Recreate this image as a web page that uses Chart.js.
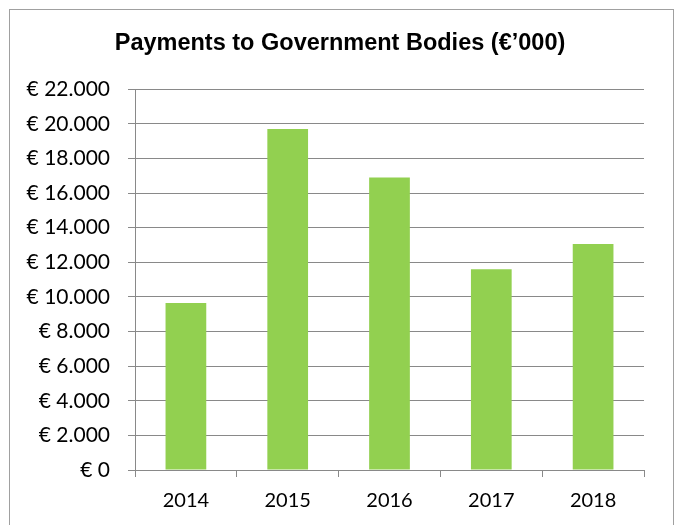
<!DOCTYPE html>
<html>
<head>
<meta charset="utf-8">
<script src="https://cdn.jsdelivr.net/npm/chart.js@4"></script>
<style>
  body { margin: 0; background: #fff; }
  #wrap { position: relative; width: 680px; height: 525px; overflow: hidden; }
  #frame { position: absolute; left: 9px; top: 9px; width: 663px; height: 540px; border: 1px solid #a0a0a0; }
  canvas { position: absolute; left: 0; top: 0; }
</style>
</head>
<body>
<div id="wrap">
  <div id="frame"></div>
  <canvas id="paymentsChart" width="680" height="525"></canvas>
</div>
<script>
const years = ['2014', '2015', '2016', '2017', '2018'];
const payments = [9650, 19700, 16900, 11600, 13050];
const yMin = 0;
const yMax = 22000;
const yStep = 2000;

function euro(v) {
    return '€ ' + String(v).replace(/\B(?=(\d{3})+(?!\d))/g, '.');
}

const ctx = document.getElementById('paymentsChart').getContext('2d');
const paymentsChart = new Chart(ctx, {
    type: 'bar',
    data: {
        labels: years,
        datasets: [{
            label: 'Payments',
            data: payments,
            backgroundColor: '#92D050',
            borderWidth: 0,
            barPercentage: 0.4,
            categoryPercentage: 1
        }]
    },
    options: {
        responsive: false,
        animation: false,
        layout: {
            padding: 0
        },
        plugins: {
            legend: { display: false },
            tooltip: { enabled: false },
            title: {
                display: true,
                text: 'Payments to Government Bodies (€’000)',
                color: '#000',
                font: { family: 'Liberation Sans', size: 23.5, weight: 'bold' },
                padding: { top: 29, bottom: 32 }
            }
        },
        scales: {
            x: {
                grid: {
                    drawOnChartArea: false,
                    drawTicks: true,
                    tickLength: 7,
                    color: '#898989'
                },
                border: { color: '#898989' },
                ticks: {
                    color: '#000',
                    padding: 12,
                    font: { family: 'Lato', size: 20 }
                }
            },
            y: {
                min: yMin,
                max: yMax,
                afterFit: function (scale) { scale.width = 135; },
                grid: {
                    color: '#898989',
                    tickLength: 7
                },
                border: { color: '#898989' },
                ticks: {
                    stepSize: yStep,
                    color: '#000',
                    padding: 18,
                    font: { family: 'Lato', size: 21 },
                    callback: function (value) { return euro(value); }
                }
            },
            // empty right axis, only keeps room to the right of the plot
            yRight: {
                position: 'right',
                min: yMin,
                max: yMax,
                afterFit: function (scale) { scale.width = 36; },
                grid: { display: false },
                border: { display: false },
                ticks: { display: false }
            }
        }
    }
});
</script>
</body>
</html>
